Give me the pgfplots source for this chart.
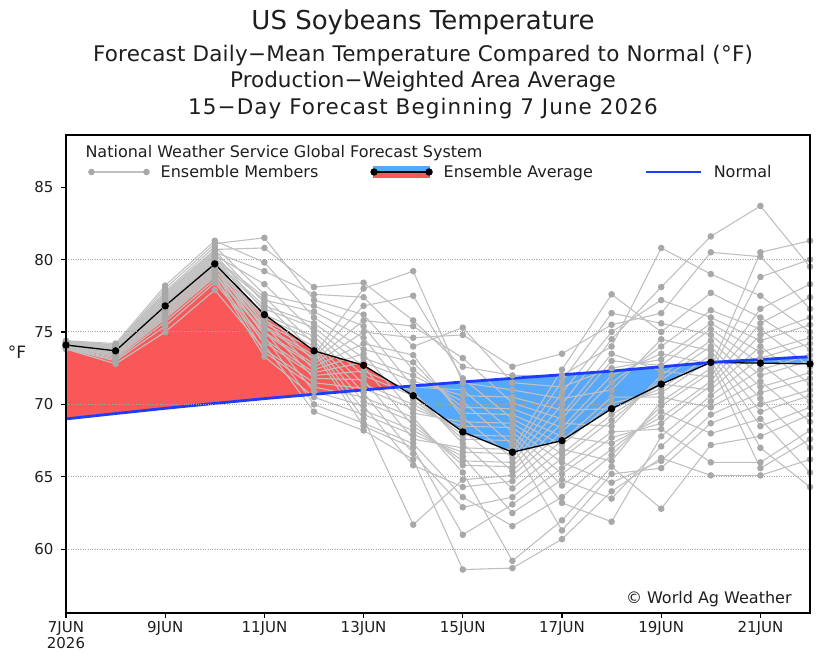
\documentclass[border=0pt]{standalone}
\usepackage{fontspec}
\setmainfont{DejaVu Sans}
\usepackage{pgfplots}
\pgfplotsset{compat=1.18}
\usepgfplotslibrary{fillbetween}

\definecolor{redfill}{RGB}{250,88,88}
\definecolor{bluefill}{RGB}{86,168,250}
\definecolor{normblue}{RGB}{30,60,255}
\definecolor{memline}{RGB}{192,192,192}
\definecolor{memmark}{RGB}{168,168,168}
\definecolor{txt}{RGB}{30,30,30}

\pgfplotsset{mem/.style={color=memline, line width=1.1pt, mark=*, mark size=2.7pt, mark options={fill=memmark, draw=memmark}}}

\begin{document}
\begin{tikzpicture}
\begin{axis}[
 at={(0pt,0pt)}, anchor=south west,
 scale only axis, width=744pt, height=478pt,
 xmin=0, xmax=15, ymin=55.6, ymax=88.6,
 axis line style={line width=1.6pt},
 xtick={0,2,...,14},
 xticklabels={{7JUN\\2026},9JUN,11JUN,13JUN,15JUN,17JUN,19JUN,21JUN},
 x tick label style={align=center, font=\fontsize{15}{16}\selectfont, text=txt},
 ytick={60,65,...,85},
 y tick label style={font=\fontsize{15}{16}\selectfont, xshift=-4pt, text=txt},
 tick align=outside, tick pos=left, major tick length=5pt,
 tick style={line width=1.2pt, black},
 /pgf/number format/assume math mode=true,
 extra y ticks={60,65,70,75,80},
 extra y tick labels={},
 extra y tick style={grid=major, major tick length=0pt},
 grid style={dotted, line width=1pt, gray!70},
 axis on top,
 legend columns=3,
 legend style={draw=none, fill=none, at={(0.0296,0.9226)}, anchor=west, inner sep=0pt,
   font=\fontsize{16}{18}\selectfont, text=txt,
   /tikz/every odd column/.append style={column sep=9pt},
   /tikz/every even column/.append style={column sep=50pt}},
]
\addplot[draw=none, name path=avgP, forget plot] coordinates {(0,74.1)(1,73.7)(2,76.8)(3,79.7)(4,76.2)(5,73.7)(6,72.7)(7,70.6)(8,68.1)(9,66.7)(10,67.5)(11,69.7)(12,71.4)(13,72.9)(14,72.85)(15,72.8)};
\addplot[draw=none, name path=normP, forget plot] coordinates {(0,69.0)(1,69.37)(2,69.73)(3,70.07)(4,70.4)(5,70.7)(6,71.0)(7,71.28)(8,71.55)(9,71.8)(10,72.05)(11,72.3)(12,72.6)(13,72.9)(14,73.1)(15,73.3)};
\addplot[redfill, forget plot] fill between[of=avgP and normP, soft clip={domain=0:6.714}];
\addplot[bluefill, forget plot] fill between[of=avgP and normP, soft clip={domain=6.714:15}];

\addplot[mem, legend image code/.code={\draw[memline, line width=1.1pt] (0pt,0pt) -- (55pt,0pt); \fill[memmark] (0pt,0pt) circle (2.7pt); \fill[memmark] (55pt,0pt) circle (2.7pt);}] coordinates {(0,74.40)(1,74.2)(2,78.2)(3,81.3)(4,79.8)(5,76.0)(6,73.8)(7,72.9)(8,69.4)(9,69.3)(10,67.8)(11,67.3)(12,69.1)(13,71.6)(14,75.6)(15,77.4)};
\addlegendentry{Ensemble Members}
\addplot[mem, forget plot] coordinates {(0,74.38)(1,74.1)(2,78.0)(3,81.1)(4,81.5)(5,77.2)(6,76.2)(7,72.4)(8,69.8)(9,69.7)(10,68.4)(11,72.0)(12,73.5)(13,72.8)(14,65.6)(15,67.6)};
\addplot[mem, forget plot] coordinates {(0,74.36)(1,74.1)(2,77.8)(3,80.9)(4,77.6)(5,76.8)(6,75.4)(7,71.2)(8,71.0)(9,68.1)(10,65.2)(11,67.7)(12,68.7)(13,71.3)(14,74.8)(15,76.0)};
\addplot[mem, forget plot] coordinates {(0,74.34)(1,74.0)(2,77.7)(3,80.7)(4,80.8)(5,78.1)(6,78.4)(7,75.8)(8,72.6)(9,72.0)(10,72.0)(11,74.0)(12,80.8)(13,79.0)(14,77.5)(15,75.0)};
\addplot[mem, forget plot] coordinates {(0,74.32)(1,74.0)(2,77.6)(3,80.6)(4,77.0)(5,73.6)(6,68.5)(7,67.0)(8,61.0)(9,63.1)(10,65.6)(11,68.1)(12,68.3)(13,66.0)(14,66.0)(15,68.2)};
\addplot[mem, forget plot] coordinates {(0,74.30)(1,74.0)(2,77.5)(3,80.5)(4,79.2)(5,77.6)(6,77.4)(7,74.0)(8,75.3)(9,71.5)(10,71.2)(11,72.5)(12,73.1)(13,75.6)(14,73.6)(15,74.6)};
\addplot[mem, forget plot] coordinates {(0,74.28)(1,73.9)(2,77.4)(3,80.4)(4,76.4)(5,73.0)(6,75.8)(7,75.4)(8,73.2)(9,70.1)(10,69.0)(11,73.0)(12,72.7)(13,75.2)(14,72.8)(15,70.2)};
\addplot[mem, forget plot] coordinates {(0,74.26)(1,73.9)(2,77.3)(3,80.3)(4,78.3)(5,75.0)(6,72.0)(7,70.6)(8,67.6)(9,67.5)(10,63.2)(11,61.9)(12,67.8)(13,70.6)(14,73.2)(15,74.2)};
\addplot[mem, forget plot] coordinates {(0,74.24)(1,73.9)(2,77.2)(3,80.2)(4,75.9)(5,72.4)(6,73.5)(7,69.4)(8,68.8)(9,68.7)(10,66.6)(11,69.3)(12,71.4)(13,71.0)(14,74.0)(15,71.4)};
\addplot[mem, forget plot] coordinates {(0,74.22)(1,73.9)(2,77.1)(3,80.1)(4,77.4)(5,74.2)(6,70.2)(7,68.8)(8,65.8)(9,65.7)(10,69.3)(11,73.5)(12,72.3)(13,71.9)(14,76.6)(15,78.3)};
\addplot[mem, forget plot] coordinates {(0,74.20)(1,73.8)(2,77.0)(3,80.0)(4,77.2)(5,76.4)(6,74.6)(7,70.3)(8,67.9)(9,67.8)(10,64.4)(11,66.9)(12,69.5)(13,68.0)(14,69.0)(15,65.3)};
\addplot[mem, forget plot] coordinates {(0,74.18)(1,73.8)(2,77.0)(3,79.9)(4,75.5)(5,71.8)(6,71.7)(7,67.6)(8,67.0)(9,66.9)(10,72.4)(11,77.6)(12,75.0)(13,77.7)(14,76.0)(15,73.8)};
\addplot[mem, forget plot] coordinates {(0,74.16)(1,73.8)(2,76.9)(3,79.9)(4,76.8)(5,75.6)(6,73.2)(7,72.0)(8,70.2)(9,67.2)(10,61.3)(11,65.2)(12,65.6)(13,68.7)(14,70.0)(15,71.0)};
\addplot[mem, forget plot] coordinates {(0,74.14)(1,73.8)(2,76.9)(3,79.8)(4,76.6)(5,75.3)(6,72.6)(7,68.5)(8,66.1)(9,66.0)(10,70.0)(11,74.5)(12,78.1)(13,81.6)(14,83.7)(15,79.5)};
\addplot[mem, forget plot] coordinates {(0,74.12)(1,73.7)(2,76.8)(3,79.8)(4,75.1)(5,70.9)(6,69.9)(7,65.8)(8,64.3)(9,64.7)(10,67.5)(11,70.5)(12,70.5)(13,69.8)(14,71.6)(15,68.8)};
\addplot[mem, forget plot] coordinates {(0,74.10)(1,73.7)(2,76.8)(3,79.7)(4,76.2)(5,74.7)(6,71.4)(7,70.0)(8,68.2)(9,65.4)(10,68.7)(11,68.5)(12,72.0)(13,74.4)(14,71.2)(15,72.2)};
\addplot[mem, forget plot] coordinates {(0,74.08)(1,73.7)(2,76.7)(3,79.7)(4,76.0)(5,74.4)(6,70.8)(7,66.6)(8,62.9)(9,63.6)(10,66.3)(11,68.9)(12,71.7)(13,74.0)(14,70.4)(15,67.0)};
\addplot[mem, forget plot] coordinates {(0,74.06)(1,73.7)(2,76.7)(3,79.6)(4,74.7)(5,70.0)(6,68.7)(7,67.3)(8,63.6)(9,61.6)(10,63.6)(11,66.5)(12,69.9)(13,72.2)(14,78.8)(15,80.0)};
\addplot[mem, forget plot] coordinates {(0,74.04)(1,73.6)(2,76.6)(3,79.6)(4,75.8)(5,74.0)(6,69.6)(7,68.2)(8,66.4)(9,62.5)(10,64.8)(11,63.5)(12,67.1)(13,70.2)(14,72.4)(15,73.4)};
\addplot[mem, forget plot] coordinates {(0,74.02)(1,73.6)(2,76.6)(3,79.5)(4,75.6)(5,73.8)(6,69.0)(7,61.7)(8,64.8)(9,65.1)(10,68.1)(11,71.5)(12,74.0)(13,76.5)(14,75.2)(15,72.6)};
\addplot[mem, forget plot] coordinates {(0,74.00)(1,73.6)(2,76.5)(3,79.4)(4,74.1)(5,69.5)(6,68.2)(7,66.2)(8,58.6)(9,58.7)(10,60.7)(11,64.0)(12,66.3)(13,65.1)(14,65.1)(15,66.2)};
\addplot[mem, forget plot] coordinates {(0,73.98)(1,73.5)(2,76.4)(3,79.3)(4,75.4)(5,73.4)(6,78.0)(7,79.2)(8,71.5)(9,71.0)(10,70.4)(11,71.0)(12,74.5)(13,73.7)(14,69.5)(15,70.6)};
\addplot[mem, forget plot] coordinates {(0,73.96)(1,73.5)(2,76.3)(3,79.2)(4,75.3)(5,73.2)(6,76.8)(7,77.5)(8,71.8)(9,69.0)(10,67.2)(11,70.1)(12,70.8)(13,73.1)(14,67.0)(15,64.3)};
\addplot[mem, forget plot] coordinates {(0,73.94)(1,73.4)(2,76.2)(3,79.1)(4,73.6)(5,71.2)(6,70.5)(7,69.1)(8,65.3)(9,59.2)(10,62.0)(11,65.7)(12,62.8)(13,67.2)(14,67.8)(15,69.3)};
\addplot[mem, forget plot] coordinates {(0,73.92)(1,73.4)(2,76.1)(3,79.0)(4,75.0)(5,72.8)(6,75.0)(7,74.6)(8,74.8)(9,72.6)(10,73.5)(11,75.5)(12,76.3)(13,80.5)(14,80.2)(15,76.6)};
\addplot[mem, forget plot] coordinates {(0,73.90)(1,73.3)(2,76.0)(3,78.9)(4,74.9)(5,72.6)(6,74.2)(7,73.4)(8,69.1)(9,66.3)(10,70.8)(11,75.0)(12,77.2)(13,76.0)(14,74.4)(15,75.5)};
\addplot[mem, forget plot] coordinates {(0,73.88)(1,73.2)(2,75.9)(3,78.8)(4,73.3)(5,70.5)(6,69.3)(7,67.9)(8,66.7)(9,66.6)(10,71.6)(11,76.3)(12,75.6)(13,74.8)(14,72.0)(15,73.0)};
\addplot[mem, forget plot] coordinates {(0,73.86)(1,73.1)(2,75.7)(3,78.6)(4,74.5)(5,72.2)(6,72.9)(7,71.6)(8,70.6)(9,70.5)(10,69.6)(11,69.7)(12,71.1)(13,73.4)(14,68.5)(15,69.8)};
\addplot[mem, forget plot] coordinates {(0,73.84)(1,73.0)(2,75.4)(3,78.4)(4,74.3)(5,72.0)(6,72.3)(7,70.9)(8,67.3)(9,64.2)(10,66.9)(11,66.1)(12,70.2)(13,72.5)(14,80.5)(15,81.3)};
\addplot[mem, forget plot] coordinates {(0,73.82)(1,72.8)(2,75.0)(3,77.9)(4,73.8)(5,71.5)(6,71.1)(7,69.7)(8,68.5)(9,68.4)(10,66.0)(11,64.6)(12,66.1)(13,69.3)(14,70.8)(15,71.8)};

\addplot[black, line width=1.3pt, mark=*, mark size=3pt,
 legend image code/.code={\fill[bluefill] (0pt,0pt) rectangle (55pt,5pt); \fill[redfill] (0pt,-5pt) rectangle (55pt,0pt); \draw[black, line width=1.3pt] (0pt,0pt) -- (55pt,0pt); \fill[black] (0pt,0pt) circle (3pt); \fill[black] (55pt,0pt) circle (3pt);}]
 coordinates {(0,74.1)(1,73.7)(2,76.8)(3,79.7)(4,76.2)(5,73.7)(6,72.7)(7,70.6)(8,68.1)(9,66.7)(10,67.5)(11,69.7)(12,71.4)(13,72.9)(14,72.85)(15,72.8)};
\addlegendentry{Ensemble Average}
\addplot[normblue, line width=2.8pt,
 legend image code/.code={\draw[normblue, line width=2.8pt] (0pt,0pt) -- (55pt,0pt);}]
 coordinates {(0,69.0)(1,69.37)(2,69.73)(3,70.07)(4,70.4)(5,70.7)(6,71.0)(7,71.28)(8,71.55)(9,71.8)(10,72.05)(11,72.3)(12,72.6)(13,72.9)(14,73.1)(15,73.3)};
\addlegendentry{Normal}

\node[anchor=base west, text=txt, font=\fontsize{16}{18}\selectfont] at (axis description cs:0.0215,0.952) {National Weather Service Global Forecast System};
\node[anchor=base east, text=txt, font=\fontsize{16}{18}\selectfont] at (axis description cs:0.98,0.019) {© World Ag Weather};
\end{axis}
\node[text=txt, font=\fontsize{17}{18}\selectfont] at (-49pt,261pt) {°F};
\node[anchor=base, text=txt, font=\fontsize{26}{28}\selectfont] at (357pt,583pt) {US Soybeans Temperature};
\node[anchor=base, text=txt, font=\fontsize{21.5}{24}\selectfont\addfontfeature{LetterSpace=1}] at (357pt,551pt) {Forecast Daily−Mean Temperature Compared to Normal (°F)};
\node[anchor=base, text=txt, font=\fontsize{21.5}{24}\selectfont] at (357pt,525pt) {Production−Weighted Area Average};
\node[anchor=base, text=txt, font=\fontsize{21.5}{24}\selectfont\addfontfeature{LetterSpace=5}] at (357pt,498pt) {15−Day Forecast Beginning 7 June 2026};
\pgfresetboundingbox
\useasboundingbox (-66pt,-45pt) rectangle (766pt,613pt);
\end{tikzpicture}
\end{document}
